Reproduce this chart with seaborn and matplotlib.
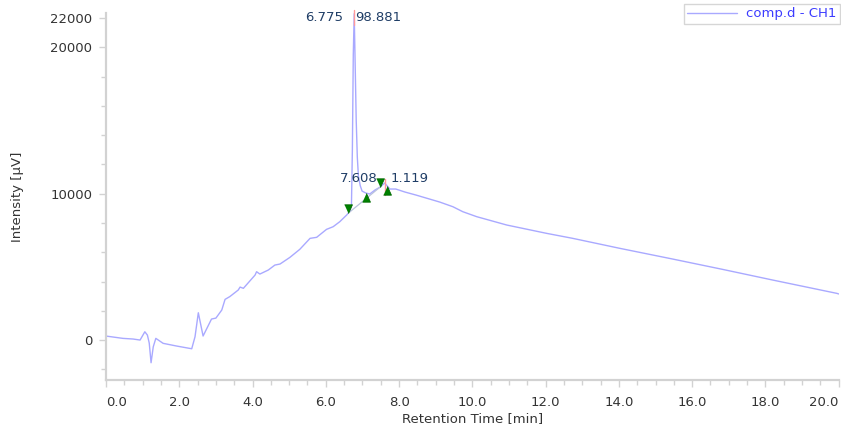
import numpy as np
import pandas as pd
import matplotlib
matplotlib.use("Agg")
import matplotlib.pyplot as plt
from matplotlib.markers import MarkerStyle
import seaborn as sns

# Chromatogram trace: retention time [min] and detector signal [µV]
rt = [0.00, 0.01, 0.46, 0.74, 0.93, 1.06, 1.13, 1.18, 1.23, 1.29, 1.36, 1.56,
      1.93, 2.34, 2.43, 2.52, 2.65, 2.88, 3.00, 3.16, 3.25, 3.38, 3.61, 3.66,
      3.75, 4.07, 4.11, 4.20, 4.43, 4.61, 4.75, 5.02, 5.29, 5.57, 5.75, 6.02,
      6.20, 6.38, 6.57, 6.66, 6.70, 6.725, 6.75, 6.775, 6.80, 6.83, 6.86,
      6.89, 6.94, 6.99, 7.09, 7.20, 7.34, 7.48, 7.608, 7.75, 7.91, 8.16, 8.46,
      9.11, 9.47, 9.74, 10.12, 10.94, 12.03, 12.74, 14.02, 15.47, 16.83, 18.20,
      19.95, 20.00]
signal = [-480, 270, 115, 70, 0, 565, 340, -205, -1550, -460, 115, -225,
          -410, -595, 225, 1865, 275, 1435, 1500, 2050, 2780, 2970, 3420, 3620,
          3535, 4445, 4670, 4510, 4785, 5125, 5195, 5650, 6200, 6950, 7020, 7565,
          7745, 8085, 8545, 8815, 9230, 13000, 19500, 22300, 19000, 15000, 12500,
          11200, 10550, 10180, 10050, 9980, 10250, 10450, 10730, 10320, 10320, 10115, 9910,
          9430, 9110, 8770, 8430, 7860, 7290, 6950, 6270, 5535, 4830, 4100,
          3190, 3150]

# Integration results
peak_rt = [6.775, 7.608]
peak_area = ["98.881", "1.119"]
peak_start = [6.61, 7.48]
peak_end = [7.11, 7.675]

trace_name = "comp.d - CH1"
x_ticks = [0.0, 2.0, 4.0, 6.0, 8.0, 10.0, 12.0, 14.0, 16.0, 18.0, 20.0]
y_ticks = [0, 10000, 20000, 22000]

LINE = "#a9a9ff"
MARK = "#008000"
LABEL = "#1f3d66"
AXIS = "#d2d2d2"
TEXT = "#333333"

sns.set_theme(style="white")
plt.rcParams["font.family"] = ["DejaVu Sans"]

df = pd.DataFrame({"rt": rt, "signal": signal})

fig = plt.figure(figsize=(8.41, 4.34), dpi=100)
W, H = 841, 434
ax = fig.add_axes([106 / W, 1 - 380 / H, (838.7 - 106) / W, (380 - 13) / H])

sns.lineplot(data=df, x="rt", y="signal", ax=ax, color=LINE, lw=1.0,
             estimator=None, sort=False, label=trace_name)

xs = np.array(rt)
ys = np.array(signal)


def on_trace(t):
    return np.interp(t, xs, ys)


# baseline drawn under the main peak
ax.plot([peak_start[0], peak_start[1]], on_trace([peak_start[0], peak_start[1]]),
        color="#b9c2dc", lw=0.9, zorder=3)

# peak start / end markers with their tips on the trace
down_tri = MarkerStyle([(-0.5, 1.1), (0.5, 1.1), (0.0, 0.0)])
up_tri = MarkerStyle([(-0.5, -1.1), (0.5, -1.1), (0.0, 0.0)])
ax.plot(peak_start, on_trace(peak_start), ls="none", marker=down_tri,
        ms=12.5, color=MARK, mec="#006a00", mew=0.6, zorder=5)
ax.plot(peak_end, on_trace(peak_end), ls="none", marker=up_tri,
        ms=12.5, color=MARK, mec="#006a00", mew=0.6, zorder=5)

# apex lines and labels
label_offsets = [(-11, 1, -4), (-7, 6, 5)]
for t, area, (lo, ro, yo) in zip(peak_rt, peak_area, label_offsets):
    apex = on_trace(t)
    ax.plot([t, t], [apex - 800, apex + 250], color="#ff9a9a", lw=1.0,
            zorder=4, clip_on=False)
    ax.annotate(f"{t:.3f}", (t, apex), xytext=(lo * 0.72, yo * 0.72),
                textcoords="offset points", ha="right", va="center",
                fontsize=9.5, color=LABEL, annotation_clip=False)
    ax.annotate(area, (t, apex), xytext=(ro * 0.72, yo * 0.72),
                textcoords="offset points", ha="left", va="center",
                fontsize=9.5, color=LABEL, annotation_clip=False)

ax.set_xlim(0, 20)
ax.set_ylim(-2730, 22350)
ax.set_xticks(x_ticks)
ax.set_xticklabels([f"{v:.1f}" for v in x_ticks])
ax.set_xticks(np.arange(0, 20.01, 0.5), minor=True)
ax.set_yticks(y_ticks)
ax.set_yticklabels([str(v) for v in y_ticks])
ax.set_yticks(np.arange(-2000, 22001, 2000), minor=True)

xl = ax.get_xticklabels()
xl[0].set_horizontalalignment("left")
xl[-1].set_horizontalalignment("right")

for side in ("top", "right"):
    ax.spines[side].set_visible(False)
for side in ("left", "bottom"):
    ax.spines[side].set_color(AXIS)
    ax.spines[side].set_linewidth(1.6)

ax.tick_params(which="both", color=AXIS, labelcolor=TEXT, labelsize=9.5,
               left=True, bottom=True, width=1.0)
ax.tick_params(axis="x", which="major", length=5, pad=6.5)
ax.tick_params(axis="y", which="major", length=5, pad=5)
ax.tick_params(which="minor", length=3.5)

ax.set_xlabel("Retention Time [min]", fontsize=9.5, color=TEXT, labelpad=2.5)
ax.set_ylabel("Intensity [μV]", fontsize=9.5, color=TEXT, labelpad=18.5)

leg = ax.legend(loc="upper right", bbox_to_anchor=(840 / W, 1 - 4 / H),
                bbox_transform=fig.transFigure, frameon=True, fancybox=False,
                borderaxespad=0, handlelength=3.8, handletextpad=0.7,
                borderpad=0.25, fontsize=9.5, labelcolor="#3c3cff")
leg.get_frame().set_edgecolor("#cccccc")
leg.get_frame().set_linewidth(1.0)

fig.savefig("out.png", dpi=100)
